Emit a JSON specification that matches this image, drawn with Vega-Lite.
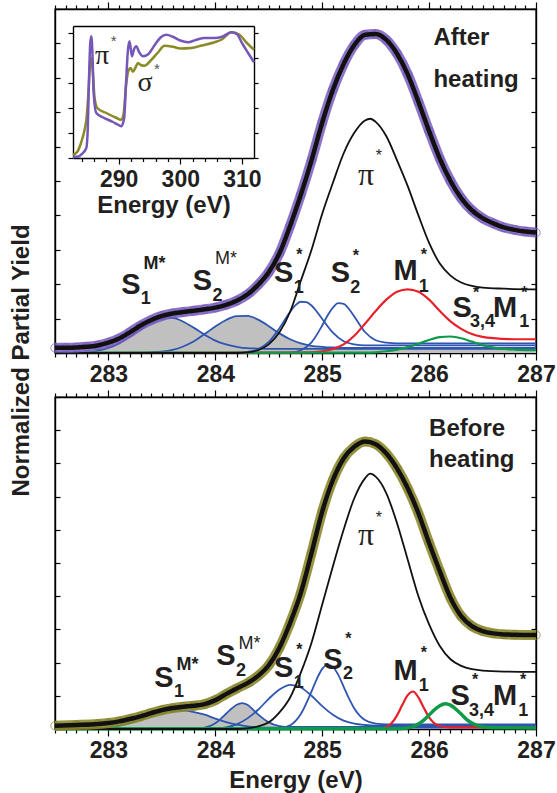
{
"$schema":"https://vega.github.io/schema/vega-lite/v6.json",
"background":"white",
"padding":{"left":8,"top":0,"right":0,"bottom":0},
"bounds":"flush",
"spacing":44,
"config":{
 "view":{"stroke":"#000","strokeWidth":1.4},
 "axis":{"grid":false,"domainColor":"#000","domainWidth":1.4,"tickColor":"#000","tickWidth":1.2,"labelFont":"Liberation Sans","labelFontWeight":"bold","labelFontSize":23,"labelColor":"#231f20","titleFont":"Liberation Sans","titleFontWeight":"bold","titleFontSize":24,"titleColor":"#231f20"}
},
"datasets":{
"curves":[
{"p":"A","s":"tot","E":282.5,"v":0.15},{"p":"A","s":"tot","E":282.6,"v":0.15},{"p":"A","s":"tot","E":282.7,"v":0.16},{"p":"A","s":"tot","E":282.8,"v":0.18},{"p":"A","s":"tot","E":282.9,"v":0.22},{"p":"A","s":"tot","E":283.0,"v":0.30},{"p":"A","s":"tot","E":283.1,"v":0.42},{"p":"A","s":"tot","E":283.2,"v":0.60},{"p":"A","s":"tot","E":283.3,"v":0.80},{"p":"A","s":"tot","E":283.4,"v":0.96},{"p":"A","s":"tot","E":283.5,"v":1.08},{"p":"A","s":"tot","E":283.6,"v":1.15},{"p":"A","s":"tot","E":283.7,"v":1.19},{"p":"A","s":"tot","E":283.8,"v":1.23},{"p":"A","s":"tot","E":283.9,"v":1.27},{"p":"A","s":"tot","E":284.0,"v":1.32},{"p":"A","s":"tot","E":284.1,"v":1.40},{"p":"A","s":"tot","E":284.2,"v":1.52},{"p":"A","s":"tot","E":284.3,"v":1.70},{"p":"A","s":"tot","E":284.4,"v":1.98},{"p":"A","s":"tot","E":284.5,"v":2.35},{"p":"A","s":"tot","E":284.6,"v":2.90},{"p":"A","s":"tot","E":284.7,"v":3.70},{"p":"A","s":"tot","E":284.8,"v":4.60},{"p":"A","s":"tot","E":284.9,"v":5.60},{"p":"A","s":"tot","E":285.0,"v":6.70},{"p":"A","s":"tot","E":285.1,"v":7.65},{"p":"A","s":"tot","E":285.2,"v":8.40},{"p":"A","s":"tot","E":285.3,"v":8.95},{"p":"A","s":"tot","E":285.4,"v":9.25},{"p":"A","s":"tot","E":285.5,"v":9.27},{"p":"A","s":"tot","E":285.6,"v":9.10},{"p":"A","s":"tot","E":285.7,"v":8.70},{"p":"A","s":"tot","E":285.8,"v":8.10},{"p":"A","s":"tot","E":285.9,"v":7.30},{"p":"A","s":"tot","E":286.0,"v":6.45},{"p":"A","s":"tot","E":286.1,"v":5.65},{"p":"A","s":"tot","E":286.2,"v":5.00},{"p":"A","s":"tot","E":286.3,"v":4.50},{"p":"A","s":"tot","E":286.4,"v":4.15},{"p":"A","s":"tot","E":286.5,"v":3.92},{"p":"A","s":"tot","E":286.6,"v":3.77},{"p":"A","s":"tot","E":286.7,"v":3.65},{"p":"A","s":"tot","E":286.8,"v":3.58},{"p":"A","s":"tot","E":286.9,"v":3.53},{"p":"A","s":"tot","E":287.0,"v":3.50},
{"p":"A","s":"pi","E":282.5,"v":0},{"p":"A","s":"pi","E":284.2,"v":0},{"p":"A","s":"pi","E":284.3,"v":0.02},{"p":"A","s":"pi","E":284.4,"v":0.08},{"p":"A","s":"pi","E":284.5,"v":0.25},{"p":"A","s":"pi","E":284.6,"v":0.6},{"p":"A","s":"pi","E":284.7,"v":1.2},{"p":"A","s":"pi","E":284.8,"v":2.1},{"p":"A","s":"pi","E":284.9,"v":3.0},{"p":"A","s":"pi","E":285.0,"v":4.05},{"p":"A","s":"pi","E":285.1,"v":4.95},{"p":"A","s":"pi","E":285.2,"v":5.8},{"p":"A","s":"pi","E":285.3,"v":6.4},{"p":"A","s":"pi","E":285.4,"v":6.76},{"p":"A","s":"pi","E":285.45,"v":6.81},{"p":"A","s":"pi","E":285.5,"v":6.72},{"p":"A","s":"pi","E":285.6,"v":6.3},{"p":"A","s":"pi","E":285.7,"v":5.6},{"p":"A","s":"pi","E":285.8,"v":4.85},{"p":"A","s":"pi","E":285.9,"v":4.0},{"p":"A","s":"pi","E":286.0,"v":3.2},{"p":"A","s":"pi","E":286.1,"v":2.6},{"p":"A","s":"pi","E":286.2,"v":2.25},{"p":"A","s":"pi","E":286.3,"v":2.05},{"p":"A","s":"pi","E":286.4,"v":1.95},{"p":"A","s":"pi","E":286.5,"v":1.9},{"p":"A","s":"pi","E":286.7,"v":1.87},{"p":"A","s":"pi","E":287.0,"v":1.85},
{"p":"A","s":"s1m","E":282.5,"v":0},{"p":"A","s":"s1m","E":282.7,"v":0.01},{"p":"A","s":"s1m","E":282.8,"v":0.02},{"p":"A","s":"s1m","E":282.9,"v":0.07},{"p":"A","s":"s1m","E":283.0,"v":0.15},{"p":"A","s":"s1m","E":283.1,"v":0.28},{"p":"A","s":"s1m","E":283.2,"v":0.48},{"p":"A","s":"s1m","E":283.3,"v":0.69},{"p":"A","s":"s1m","E":283.4,"v":0.88},{"p":"A","s":"s1m","E":283.5,"v":1.0},{"p":"A","s":"s1m","E":283.6,"v":1.02},{"p":"A","s":"s1m","E":283.7,"v":0.91},{"p":"A","s":"s1m","E":283.8,"v":0.73},{"p":"A","s":"s1m","E":283.9,"v":0.53},{"p":"A","s":"s1m","E":284.0,"v":0.36},{"p":"A","s":"s1m","E":284.1,"v":0.25},{"p":"A","s":"s1m","E":284.2,"v":0.18},{"p":"A","s":"s1m","E":284.3,"v":0.14},{"p":"A","s":"s1m","E":284.4,"v":0.13},{"p":"A","s":"s1m","E":284.5,"v":0.12},{"p":"A","s":"s1m","E":287.0,"v":0.12},
{"p":"A","s":"s2m","E":282.5,"v":0},{"p":"A","s":"s2m","E":283.3,"v":0.01},{"p":"A","s":"s2m","E":283.4,"v":0.02},{"p":"A","s":"s2m","E":283.5,"v":0.04},{"p":"A","s":"s2m","E":283.6,"v":0.09},{"p":"A","s":"s2m","E":283.7,"v":0.19},{"p":"A","s":"s2m","E":283.8,"v":0.34},{"p":"A","s":"s2m","E":283.9,"v":0.55},{"p":"A","s":"s2m","E":284.0,"v":0.77},{"p":"A","s":"s2m","E":284.1,"v":0.96},{"p":"A","s":"s2m","E":284.2,"v":1.07},{"p":"A","s":"s2m","E":284.3,"v":1.08},{"p":"A","s":"s2m","E":284.4,"v":0.97},{"p":"A","s":"s2m","E":284.5,"v":0.78},{"p":"A","s":"s2m","E":284.6,"v":0.57},{"p":"A","s":"s2m","E":284.7,"v":0.4},{"p":"A","s":"s2m","E":284.8,"v":0.28},{"p":"A","s":"s2m","E":284.9,"v":0.21},{"p":"A","s":"s2m","E":285.0,"v":0.18},{"p":"A","s":"s2m","E":285.1,"v":0.16},{"p":"A","s":"s2m","E":285.2,"v":0.15},{"p":"A","s":"s2m","E":287.0,"v":0.15},
{"p":"A","s":"s1","E":282.5,"v":0},{"p":"A","s":"s1","E":284.1,"v":0},{"p":"A","s":"s1","E":284.2,"v":0.01},{"p":"A","s":"s1","E":284.3,"v":0.03},{"p":"A","s":"s1","E":284.4,"v":0.11},{"p":"A","s":"s1","E":284.5,"v":0.32},{"p":"A","s":"s1","E":284.6,"v":0.72},{"p":"A","s":"s1","E":284.7,"v":1.2},{"p":"A","s":"s1","E":284.75,"v":1.39},{"p":"A","s":"s1","E":284.8,"v":1.49},{"p":"A","s":"s1","E":284.85,"v":1.48},{"p":"A","s":"s1","E":284.9,"v":1.38},{"p":"A","s":"s1","E":284.95,"v":1.2},{"p":"A","s":"s1","E":285.0,"v":0.99},{"p":"A","s":"s1","E":285.1,"v":0.59},{"p":"A","s":"s1","E":285.2,"v":0.34},{"p":"A","s":"s1","E":285.3,"v":0.25},{"p":"A","s":"s1","E":285.4,"v":0.22},{"p":"A","s":"s1","E":287.0,"v":0.22},
{"p":"A","s":"s2","E":282.5,"v":0},{"p":"A","s":"s2","E":284.6,"v":0},{"p":"A","s":"s2","E":284.7,"v":0.01},{"p":"A","s":"s2","E":284.8,"v":0.08},{"p":"A","s":"s2","E":284.9,"v":0.31},{"p":"A","s":"s2","E":285.0,"v":0.8},{"p":"A","s":"s2","E":285.05,"v":1.09},{"p":"A","s":"s2","E":285.1,"v":1.32},{"p":"A","s":"s2","E":285.15,"v":1.45},{"p":"A","s":"s2","E":285.2,"v":1.43},{"p":"A","s":"s2","E":285.25,"v":1.28},{"p":"A","s":"s2","E":285.3,"v":1.06},{"p":"A","s":"s2","E":285.4,"v":0.61},{"p":"A","s":"s2","E":285.5,"v":0.37},{"p":"A","s":"s2","E":285.6,"v":0.3},{"p":"A","s":"s2","E":285.7,"v":0.28},{"p":"A","s":"s2","E":287.0,"v":0.28},
{"p":"A","s":"m1","E":282.5,"v":0},{"p":"A","s":"m1","E":284.8,"v":0.01},{"p":"A","s":"m1","E":285.0,"v":0.05},{"p":"A","s":"m1","E":285.1,"v":0.12},{"p":"A","s":"m1","E":285.2,"v":0.25},{"p":"A","s":"m1","E":285.3,"v":0.5},{"p":"A","s":"m1","E":285.4,"v":0.85},{"p":"A","s":"m1","E":285.5,"v":1.22},{"p":"A","s":"m1","E":285.6,"v":1.55},{"p":"A","s":"m1","E":285.7,"v":1.78},{"p":"A","s":"m1","E":285.8,"v":1.85},{"p":"A","s":"m1","E":285.9,"v":1.78},{"p":"A","s":"m1","E":286.0,"v":1.55},{"p":"A","s":"m1","E":286.1,"v":1.22},{"p":"A","s":"m1","E":286.2,"v":0.92},{"p":"A","s":"m1","E":286.3,"v":0.7},{"p":"A","s":"m1","E":286.4,"v":0.55},{"p":"A","s":"m1","E":286.5,"v":0.47},{"p":"A","s":"m1","E":286.6,"v":0.43},{"p":"A","s":"m1","E":286.8,"v":0.4},{"p":"A","s":"m1","E":287.0,"v":0.4},
{"p":"A","s":"g","E":282.5,"v":0.01},{"p":"A","s":"g","E":285.4,"v":0.01},{"p":"A","s":"g","E":285.5,"v":0.02},{"p":"A","s":"g","E":285.6,"v":0.05},{"p":"A","s":"g","E":285.7,"v":0.1},{"p":"A","s":"g","E":285.8,"v":0.17},{"p":"A","s":"g","E":285.9,"v":0.27},{"p":"A","s":"g","E":286.0,"v":0.38},{"p":"A","s":"g","E":286.1,"v":0.46},{"p":"A","s":"g","E":286.2,"v":0.48},{"p":"A","s":"g","E":286.3,"v":0.43},{"p":"A","s":"g","E":286.4,"v":0.33},{"p":"A","s":"g","E":286.5,"v":0.23},{"p":"A","s":"g","E":286.6,"v":0.16},{"p":"A","s":"g","E":286.7,"v":0.12},{"p":"A","s":"g","E":286.8,"v":0.1},{"p":"A","s":"g","E":287.0,"v":0.08},
{"p":"B","s":"tot","E":282.5,"v":0.1},{"p":"B","s":"tot","E":282.7,"v":0.12},{"p":"B","s":"tot","E":282.9,"v":0.15},{"p":"B","s":"tot","E":283.0,"v":0.18},{"p":"B","s":"tot","E":283.1,"v":0.23},{"p":"B","s":"tot","E":283.2,"v":0.3},{"p":"B","s":"tot","E":283.3,"v":0.38},{"p":"B","s":"tot","E":283.4,"v":0.48},{"p":"B","s":"tot","E":283.5,"v":0.57},{"p":"B","s":"tot","E":283.6,"v":0.63},{"p":"B","s":"tot","E":283.7,"v":0.67},{"p":"B","s":"tot","E":283.8,"v":0.7},{"p":"B","s":"tot","E":283.9,"v":0.75},{"p":"B","s":"tot","E":284.0,"v":0.87},{"p":"B","s":"tot","E":284.1,"v":1.05},{"p":"B","s":"tot","E":284.2,"v":1.22},{"p":"B","s":"tot","E":284.3,"v":1.38},{"p":"B","s":"tot","E":284.4,"v":1.6},{"p":"B","s":"tot","E":284.5,"v":1.92},{"p":"B","s":"tot","E":284.6,"v":2.45},{"p":"B","s":"tot","E":284.7,"v":3.2},{"p":"B","s":"tot","E":284.8,"v":4.1},{"p":"B","s":"tot","E":284.9,"v":5.3},{"p":"B","s":"tot","E":285.0,"v":6.55},{"p":"B","s":"tot","E":285.1,"v":7.5},{"p":"B","s":"tot","E":285.2,"v":8.15},{"p":"B","s":"tot","E":285.3,"v":8.5},{"p":"B","s":"tot","E":285.4,"v":8.66},{"p":"B","s":"tot","E":285.5,"v":8.58},{"p":"B","s":"tot","E":285.6,"v":8.3},{"p":"B","s":"tot","E":285.7,"v":7.85},{"p":"B","s":"tot","E":285.8,"v":7.25},{"p":"B","s":"tot","E":285.9,"v":6.5},{"p":"B","s":"tot","E":286.0,"v":5.6},{"p":"B","s":"tot","E":286.1,"v":4.75},{"p":"B","s":"tot","E":286.2,"v":3.95},{"p":"B","s":"tot","E":286.3,"v":3.4},{"p":"B","s":"tot","E":286.4,"v":3.1},{"p":"B","s":"tot","E":286.5,"v":2.95},{"p":"B","s":"tot","E":286.6,"v":2.88},{"p":"B","s":"tot","E":286.7,"v":2.85},{"p":"B","s":"tot","E":286.8,"v":2.84},{"p":"B","s":"tot","E":287.0,"v":2.83},
{"p":"B","s":"pi","E":282.5,"v":0},{"p":"B","s":"pi","E":284.2,"v":0},{"p":"B","s":"pi","E":284.3,"v":0.02},{"p":"B","s":"pi","E":284.4,"v":0.08},{"p":"B","s":"pi","E":284.5,"v":0.2},{"p":"B","s":"pi","E":284.6,"v":0.5},{"p":"B","s":"pi","E":284.7,"v":0.95},{"p":"B","s":"pi","E":284.8,"v":1.7},{"p":"B","s":"pi","E":284.9,"v":2.6},{"p":"B","s":"pi","E":285.0,"v":3.75},{"p":"B","s":"pi","E":285.1,"v":4.9},{"p":"B","s":"pi","E":285.2,"v":6.0},{"p":"B","s":"pi","E":285.3,"v":6.95},{"p":"B","s":"pi","E":285.4,"v":7.55},{"p":"B","s":"pi","E":285.45,"v":7.69},{"p":"B","s":"pi","E":285.5,"v":7.6},{"p":"B","s":"pi","E":285.6,"v":7.1},{"p":"B","s":"pi","E":285.7,"v":6.2},{"p":"B","s":"pi","E":285.8,"v":5.1},{"p":"B","s":"pi","E":285.9,"v":4.0},{"p":"B","s":"pi","E":286.0,"v":3.15},{"p":"B","s":"pi","E":286.1,"v":2.5},{"p":"B","s":"pi","E":286.2,"v":2.1},{"p":"B","s":"pi","E":286.3,"v":1.9},{"p":"B","s":"pi","E":286.4,"v":1.8},{"p":"B","s":"pi","E":286.5,"v":1.76},{"p":"B","s":"pi","E":286.7,"v":1.73},{"p":"B","s":"pi","E":287.0,"v":1.72},
{"p":"B","s":"s1m","E":282.5,"v":0},{"p":"B","s":"s1m","E":282.8,"v":0.01},{"p":"B","s":"s1m","E":282.9,"v":0.02},{"p":"B","s":"s1m","E":283.0,"v":0.05},{"p":"B","s":"s1m","E":283.1,"v":0.1},{"p":"B","s":"s1m","E":283.2,"v":0.18},{"p":"B","s":"s1m","E":283.3,"v":0.28},{"p":"B","s":"s1m","E":283.4,"v":0.4},{"p":"B","s":"s1m","E":283.5,"v":0.49},{"p":"B","s":"s1m","E":283.6,"v":0.55},{"p":"B","s":"s1m","E":283.7,"v":0.56},{"p":"B","s":"s1m","E":283.8,"v":0.51},{"p":"B","s":"s1m","E":283.9,"v":0.43},{"p":"B","s":"s1m","E":284.0,"v":0.31},{"p":"B","s":"s1m","E":284.1,"v":0.21},{"p":"B","s":"s1m","E":284.2,"v":0.13},{"p":"B","s":"s1m","E":284.3,"v":0.08},{"p":"B","s":"s1m","E":284.4,"v":0.05},{"p":"B","s":"s1m","E":284.5,"v":0.04},{"p":"B","s":"s1m","E":287.0,"v":0.04},
{"p":"B","s":"s2m","E":282.5,"v":0},{"p":"B","s":"s2m","E":283.7,"v":0},{"p":"B","s":"s2m","E":283.8,"v":0.01},{"p":"B","s":"s2m","E":283.9,"v":0.04},{"p":"B","s":"s2m","E":284.0,"v":0.17},{"p":"B","s":"s2m","E":284.05,"v":0.3},{"p":"B","s":"s2m","E":284.1,"v":0.46},{"p":"B","s":"s2m","E":284.15,"v":0.61},{"p":"B","s":"s2m","E":284.2,"v":0.73},{"p":"B","s":"s2m","E":284.25,"v":0.78},{"p":"B","s":"s2m","E":284.3,"v":0.73},{"p":"B","s":"s2m","E":284.35,"v":0.59},{"p":"B","s":"s2m","E":284.4,"v":0.44},{"p":"B","s":"s2m","E":284.5,"v":0.2},{"p":"B","s":"s2m","E":284.6,"v":0.09},{"p":"B","s":"s2m","E":284.7,"v":0.06},{"p":"B","s":"s2m","E":287.0,"v":0.06},
{"p":"B","s":"s1","E":282.5,"v":0},{"p":"B","s":"s1","E":283.9,"v":0},{"p":"B","s":"s1","E":284.0,"v":0.02},{"p":"B","s":"s1","E":284.1,"v":0.05},{"p":"B","s":"s1","E":284.2,"v":0.14},{"p":"B","s":"s1","E":284.3,"v":0.32},{"p":"B","s":"s1","E":284.4,"v":0.58},{"p":"B","s":"s1","E":284.5,"v":0.91},{"p":"B","s":"s1","E":284.6,"v":1.19},{"p":"B","s":"s1","E":284.7,"v":1.33},{"p":"B","s":"s1","E":284.8,"v":1.25},{"p":"B","s":"s1","E":284.9,"v":1.0},{"p":"B","s":"s1","E":285.0,"v":0.69},{"p":"B","s":"s1","E":285.1,"v":0.43},{"p":"B","s":"s1","E":285.2,"v":0.25},{"p":"B","s":"s1","E":285.3,"v":0.16},{"p":"B","s":"s1","E":285.4,"v":0.12},{"p":"B","s":"s1","E":285.5,"v":0.1},{"p":"B","s":"s1","E":287.0,"v":0.1},
{"p":"B","s":"s2","E":282.5,"v":0},{"p":"B","s":"s2","E":284.5,"v":0},{"p":"B","s":"s2","E":284.6,"v":0.02},{"p":"B","s":"s2","E":284.7,"v":0.11},{"p":"B","s":"s2","E":284.8,"v":0.45},{"p":"B","s":"s2","E":284.9,"v":1.13},{"p":"B","s":"s2","E":284.95,"v":1.51},{"p":"B","s":"s2","E":285.0,"v":1.81},{"p":"B","s":"s2","E":285.05,"v":1.94},{"p":"B","s":"s2","E":285.1,"v":1.87},{"p":"B","s":"s2","E":285.15,"v":1.63},{"p":"B","s":"s2","E":285.2,"v":1.28},{"p":"B","s":"s2","E":285.25,"v":0.92},{"p":"B","s":"s2","E":285.3,"v":0.62},{"p":"B","s":"s2","E":285.4,"v":0.27},{"p":"B","s":"s2","E":285.5,"v":0.16},{"p":"B","s":"s2","E":285.6,"v":0.14},{"p":"B","s":"s2","E":287.0,"v":0.14},
{"p":"B","s":"m1","E":282.5,"v":0},{"p":"B","s":"m1","E":285.5,"v":0},{"p":"B","s":"m1","E":285.6,"v":0.06},{"p":"B","s":"m1","E":285.65,"v":0.18},{"p":"B","s":"m1","E":285.7,"v":0.41},{"p":"B","s":"m1","E":285.75,"v":0.73},{"p":"B","s":"m1","E":285.8,"v":1.02},{"p":"B","s":"m1","E":285.85,"v":1.13},{"p":"B","s":"m1","E":285.9,"v":0.95},{"p":"B","s":"m1","E":285.95,"v":0.64},{"p":"B","s":"m1","E":286.0,"v":0.35},{"p":"B","s":"m1","E":286.05,"v":0.17},{"p":"B","s":"m1","E":286.1,"v":0.09},{"p":"B","s":"m1","E":286.2,"v":0.05},{"p":"B","s":"m1","E":287.0,"v":0.05},
{"p":"B","s":"g","E":282.5,"v":0.01},{"p":"B","s":"g","E":285.7,"v":0.01},{"p":"B","s":"g","E":285.8,"v":0.03},{"p":"B","s":"g","E":285.9,"v":0.15},{"p":"B","s":"g","E":285.95,"v":0.27},{"p":"B","s":"g","E":286.0,"v":0.42},{"p":"B","s":"g","E":286.05,"v":0.58},{"p":"B","s":"g","E":286.1,"v":0.7},{"p":"B","s":"g","E":286.15,"v":0.76},{"p":"B","s":"g","E":286.2,"v":0.72},{"p":"B","s":"g","E":286.25,"v":0.6},{"p":"B","s":"g","E":286.3,"v":0.45},{"p":"B","s":"g","E":286.35,"v":0.29},{"p":"B","s":"g","E":286.4,"v":0.18},{"p":"B","s":"g","E":286.5,"v":0.06},{"p":"B","s":"g","E":286.6,"v":0.04},{"p":"B","s":"g","E":287.0,"v":0.03}
],
"labels":[
{"p":"A","k":"big","t":"S","E":283.21,"v":1.99},{"p":"A","k":"big","t":"S","E":283.88,"v":2.08},{"p":"A","k":"big","t":"S","E":284.64,"v":2.33},{"p":"A","k":"big","t":"S","E":285.17,"v":2.33},{"p":"A","k":"big","t":"M","E":285.78,"v":2.38},{"p":"A","k":"big","t":"S","E":286.31,"v":1.31},{"p":"A","k":"big","t":"M","E":286.71,"v":1.31},
{"p":"A","k":"sub","t":"1","E":283.35,"v":1.56},{"p":"A","k":"sub","t":"2","E":284.02,"v":1.65},{"p":"A","k":"sub","t":"1","E":284.78,"v":1.9},{"p":"A","k":"sub","t":"2","E":285.31,"v":1.9},{"p":"A","k":"sub","t":"1","E":285.95,"v":1.92},{"p":"A","k":"sub","t":"3,4","E":286.5,"v":0.9},{"p":"A","k":"sub","t":"1","E":286.89,"v":0.9},
{"p":"A","k":"sup","t":"*","E":284.785,"v":2.86},{"p":"A","k":"sup","t":"*","E":285.315,"v":2.82},{"p":"A","k":"sup","t":"*","E":285.95,"v":2.86},{"p":"A","k":"sup","t":"*","E":286.44,"v":1.74},{"p":"A","k":"sup","t":"*","E":286.89,"v":1.74},
{"p":"A","k":"msupB","t":"M*","E":283.43,"v":2.6},{"p":"A","k":"msupR","t":"M*","E":284.1,"v":2.74},
{"p":"A","k":"pi","t":"π","E":285.41,"v":5.18},{"p":"A","k":"pistar","t":"*","E":285.53,"v":5.72},
{"p":"A","k":"head","t":"After","E":286.04,"v":9.16},{"p":"A","k":"head","t":"heating","E":286.04,"v":7.94},
{"p":"B","k":"big","t":"S","E":283.52,"v":1.54},{"p":"B","k":"big","t":"S","E":284.1,"v":2.19},{"p":"B","k":"big","t":"S","E":284.64,"v":1.84},{"p":"B","k":"big","t":"S","E":285.1,"v":2.09},{"p":"B","k":"big","t":"M","E":285.78,"v":1.74},{"p":"B","k":"big","t":"S","E":286.29,"v":0.98},{"p":"B","k":"big","t":"M","E":286.71,"v":0.98},
{"p":"B","k":"sub","t":"1","E":283.66,"v":1.1},{"p":"B","k":"sub","t":"2","E":284.24,"v":1.75},{"p":"B","k":"sub","t":"1","E":284.78,"v":1.4},{"p":"B","k":"sub","t":"2","E":285.24,"v":1.65},{"p":"B","k":"sub","t":"1","E":285.95,"v":1.3},{"p":"B","k":"sub","t":"3,4","E":286.49,"v":0.55},{"p":"B","k":"sub","t":"1","E":286.88,"v":0.55},
{"p":"B","k":"sup","t":"*","E":284.785,"v":2.37},{"p":"B","k":"sup","t":"*","E":285.245,"v":2.72},{"p":"B","k":"sup","t":"*","E":285.95,"v":2.3},{"p":"B","k":"sup","t":"*","E":286.43,"v":1.48},{"p":"B","k":"sup","t":"*","E":286.88,"v":1.48},
{"p":"B","k":"msupB","t":"M*","E":283.74,"v":1.92},{"p":"B","k":"msupR","t":"M*","E":284.32,"v":2.57},
{"p":"B","k":"pi","t":"π","E":285.41,"v":5.85},{"p":"B","k":"pistar","t":"*","E":285.53,"v":6.36},
{"p":"B","k":"head","t":"Before","E":286.0,"v":9.03},{"p":"B","k":"head","t":"heating","E":286.0,"v":8.1}
],
"inset":[
{"s":"before","E":282.6,"v":0.13},{"s":"before","E":283.3,"v":0.25},{"s":"before","E":283.9,"v":0.6},{"s":"before","E":284.48,"v":1.13},{"s":"before","E":284.8,"v":1.6},{"s":"before","E":285.1,"v":2.6},{"s":"before","E":285.35,"v":3.7},{"s":"before","E":285.57,"v":4.0},{"s":"before","E":285.8,"v":3.5},{"s":"before","E":286.1,"v":2.4},{"s":"before","E":286.54,"v":2.0},{"s":"before","E":288.0,"v":1.8},{"s":"before","E":289.5,"v":1.62},{"s":"before","E":290.43,"v":1.53},{"s":"before","E":290.8,"v":1.75},{"s":"before","E":291.2,"v":2.9},{"s":"before","E":291.6,"v":3.5},{"s":"before","E":291.94,"v":3.6},{"s":"before","E":292.3,"v":3.45},{"s":"before","E":292.7,"v":3.6},{"s":"before","E":293.13,"v":3.8},{"s":"before","E":293.6,"v":3.72},{"s":"before","E":294.2,"v":3.69},{"s":"before","E":295.2,"v":3.9},{"s":"before","E":296.3,"v":4.2},{"s":"before","E":297.45,"v":4.49},{"s":"before","E":298.8,"v":4.45},{"s":"before","E":300.0,"v":4.38},{"s":"before","E":301.77,"v":4.4},{"s":"before","E":303.5,"v":4.5},{"s":"before","E":305.55,"v":4.63},{"s":"before","E":306.8,"v":4.75},{"s":"before","E":308.26,"v":5.03},{"s":"before","E":309.5,"v":4.95},{"s":"before","E":310.8,"v":4.6},{"s":"before","E":311.95,"v":4.33},
{"s":"after","E":282.6,"v":0.04},{"s":"after","E":283.5,"v":0.06},{"s":"after","E":284.0,"v":0.15},{"s":"after","E":284.76,"v":0.4},{"s":"after","E":285.0,"v":1.2},{"s":"after","E":285.2,"v":3.2},{"s":"after","E":285.4,"v":4.6},{"s":"after","E":285.57,"v":4.87},{"s":"after","E":285.75,"v":4.2},{"s":"after","E":285.95,"v":2.6},{"s":"after","E":286.38,"v":1.8},{"s":"after","E":287.5,"v":1.62},{"s":"after","E":289.0,"v":1.45},{"s":"after","E":290.0,"v":1.32},{"s":"after","E":290.43,"v":1.27},{"s":"after","E":290.9,"v":1.6},{"s":"after","E":291.2,"v":3.0},{"s":"after","E":291.5,"v":4.3},{"s":"after","E":291.77,"v":4.67},{"s":"after","E":292.16,"v":4.07},{"s":"after","E":292.5,"v":4.35},{"s":"after","E":292.86,"v":4.47},{"s":"after","E":293.3,"v":4.25},{"s":"after","E":293.94,"v":4.07},{"s":"after","E":294.8,"v":4.15},{"s":"after","E":295.8,"v":4.5},{"s":"after","E":296.8,"v":4.82},{"s":"after","E":297.72,"v":4.93},{"s":"after","E":298.8,"v":4.85},{"s":"after","E":300.0,"v":4.7},{"s":"after","E":301.24,"v":4.63},{"s":"after","E":302.5,"v":4.72},{"s":"after","E":303.93,"v":4.8},{"s":"after","E":305.5,"v":4.8},{"s":"after","E":306.8,"v":4.85},{"s":"after","E":308.26,"v":5.03},{"s":"after","E":309.2,"v":4.95},{"s":"after","E":310.0,"v":4.6},{"s":"after","E":311.0,"v":4.2},{"s":"after","E":311.95,"v":3.83}
],
"insetLabels":[
{"k":"g","t":"π","E":287.3,"v":4.07},{"k":"star","t":"*","E":289.2,"v":4.67},{"k":"g","t":"σ","E":294.3,"v":3.0},{"k":"star","t":"*","E":296.2,"v":3.55}
]
},
"vconcat":[
{
"width":481,"height":344,
"resolve":{"scale":{"x":"independent","y":"independent"},"axis":{"x":"independent","y":"independent"}},
"layer":[
 {
  "data":{"name":"curves"},
  "encoding":{
   "x":{"field":"E","type":"quantitative","scale":{"domain":[282.5,287],"nice":false,"zero":false},"axis":{"orient":"bottom","values":[282.5,282.6,282.7,282.8,282.9,283,283.1,283.2,283.3,283.4,283.5,283.6,283.7,283.8,283.9,284,284.1,284.2,284.3,284.4,284.5,284.6,284.7,284.8,284.9,285,285.1,285.2,285.3,285.4,285.5,285.6,285.7,285.8,285.9,286,286.1,286.2,286.3,286.4,286.5,286.6,286.7,286.8,286.9,287],"labelExpr":"abs(datum.value-round(datum.value))<0.01 ? format(datum.value,'d') : ''","tickSize":{"condition":{"test":"abs(datum.value-round(datum.value))<0.01","value":7},"value":4},"labelOverlap":false,"labelFlush":false,"labelPadding":3,"title":null}},
   "y":{"field":"v","type":"quantitative","scale":{"domain":[0,10],"nice":false,"zero":false},"axis":{"orient":"left","values":[0,1,2,3,4,5,6,7,8,9,10],"labels":false,"tickSize":-5,"title":"Normalized Partial Yield","titleX":-34,"titleY":351,"titleAngle":-90,"titleBaseline":"middle","titleAlign":"center"}}
  },
  "layer":[
   {"transform":[{"filter":"datum.p==='A' && datum.s==='s1m'"}],"mark":{"type":"area","color":"#c0c0c0","interpolate":"monotone"}},
   {"transform":[{"filter":"datum.p==='A' && datum.s==='s2m'"}],"mark":{"type":"area","color":"#c0c0c0","interpolate":"monotone"}},
   {"transform":[{"filter":"datum.p==='A' && (datum.s==='s1m' || datum.s==='s2m' || datum.s==='s1' || datum.s==='s2')"}],"mark":{"type":"line","color":"#2f55b0","strokeWidth":1.8,"interpolate":"monotone"},"encoding":{"detail":{"field":"s"}}},
   {"transform":[{"filter":"datum.p==='A' && datum.s==='m1'"}],"mark":{"type":"line","color":"#e8202a","strokeWidth":2.2,"interpolate":"monotone"}},
   {"transform":[{"filter":"datum.p==='A' && datum.s==='g'"}],"mark":{"type":"line","color":"#0e9a48","strokeWidth":2.2,"interpolate":"monotone"}},
   {"transform":[{"filter":"datum.p==='A' && datum.s==='pi'"}],"mark":{"type":"line","color":"#111","strokeWidth":1.8,"interpolate":"monotone"}},
   {"transform":[{"filter":"datum.p==='A' && datum.s==='tot'"}],"mark":{"type":"line","color":"#7a5cc0","strokeWidth":10,"opacity":0.85,"interpolate":"monotone"}},
   {"transform":[{"filter":"datum.p==='A' && datum.s==='tot'"}],"mark":{"type":"point","shape":"circle","filled":false,"size":70,"strokeWidth":1,"color":"#6f52b8"}},
   {"transform":[{"filter":"datum.p==='A' && datum.s==='tot'"}],"mark":{"type":"line","color":"#111","strokeWidth":4.5,"interpolate":"monotone"}},
   {"data":{"name":"labels"},"transform":[{"filter":"datum.p==='A' && datum.k==='big'"}],"mark":{"type":"text","font":"Liberation Sans","fontWeight":"bold","fontSize":29,"color":"#231f20"},"encoding":{"text":{"field":"t"}}},
   {"data":{"name":"labels"},"transform":[{"filter":"datum.p==='A' && datum.k==='sub'"}],"mark":{"type":"text","font":"Liberation Sans","fontWeight":"bold","fontSize":18,"color":"#231f20"},"encoding":{"text":{"field":"t"}}},
   {"data":{"name":"labels"},"transform":[{"filter":"datum.p==='A' && datum.k==='sup'"}],"mark":{"type":"text","font":"Liberation Sans","fontWeight":"bold","fontSize":16,"color":"#231f20"},"encoding":{"text":{"field":"t"}}},
   {"data":{"name":"labels"},"transform":[{"filter":"datum.p==='A' && datum.k==='msupB'"}],"mark":{"type":"text","font":"Liberation Sans","fontWeight":"bold","fontSize":18,"color":"#231f20"},"encoding":{"text":{"field":"t"}}},
   {"data":{"name":"labels"},"transform":[{"filter":"datum.p==='A' && datum.k==='msupR'"}],"mark":{"type":"text","font":"Liberation Sans","fontWeight":"normal","fontSize":18,"color":"#231f20"},"encoding":{"text":{"field":"t"}}},
   {"data":{"name":"labels"},"transform":[{"filter":"datum.p==='A' && datum.k==='pi'"}],"mark":{"type":"text","font":"Liberation Serif","fontSize":32,"color":"#231f20"},"encoding":{"text":{"field":"t"}}},
   {"data":{"name":"labels"},"transform":[{"filter":"datum.p==='A' && datum.k==='pistar'"}],"mark":{"type":"text","font":"Liberation Sans","fontSize":16,"color":"#231f20"},"encoding":{"text":{"field":"t"}}},
   {"data":{"name":"labels"},"transform":[{"filter":"datum.p==='A' && datum.k==='head'"}],"mark":{"type":"text","font":"Liberation Sans","fontWeight":"bold","fontSize":24,"align":"left","color":"#231f20"},"encoding":{"text":{"field":"t"}}}
  ]
 },
 {
  "data":{"name":"curves"},
  "transform":[{"filter":"datum.p==='A' && datum.s==='tot'"}],
  "mark":{"type":"point","opacity":0},
  "encoding":{
   "x":{"field":"E","type":"quantitative","scale":{"domain":[282.5,287],"nice":false,"zero":false},"axis":{"orient":"top","values":[282.5,282.6,282.7,282.8,282.9,283,283.1,283.2,283.3,283.4,283.5,283.6,283.7,283.8,283.9,284,284.1,284.2,284.3,284.4,284.5,284.6,284.7,284.8,284.9,285,285.1,285.2,285.3,285.4,285.5,285.6,285.7,285.8,285.9,286,286.1,286.2,286.3,286.4,286.5,286.6,286.7,286.8,286.9,287],"labels":false,"tickSize":{"condition":{"test":"abs(datum.value-round(datum.value))<0.01","value":7},"value":4},"title":null}},
   "y":{"field":"v","type":"quantitative","scale":{"domain":[0,10],"nice":false,"zero":false},"axis":{"orient":"right","values":[0,1,2,3,4,5,6,7,8,9,10],"labels":false,"tickSize":-5,"title":null}}
  }
 },
 {
  "encoding":{
   "x":{"field":"E","type":"quantitative","scale":{"domain":[282.6,311.95],"range":[18,199],"nice":false,"zero":false},"axis":{"orient":"bottom","offset":-195,"values":[284,286,288,290,292,294,296,298,300,302,304,306,308,310],"labelExpr":"datum.value % 10 === 0 ? format(datum.value,'d') : ''","tickSize":{"condition":{"test":"datum.value % 10 === 0","value":6},"value":3.5},"labelOverlap":false,"labelFlush":false,"labelPadding":4,"title":"Energy (eV)","titlePadding":2}},
   "y":{"field":"v","type":"quantitative","scale":{"domain":[0,5.28],"range":[149,17],"nice":false,"zero":false},"axis":{"orient":"left","offset":-18,"values":[0,1,2,3,4,5],"labels":false,"tickSize":5,"title":null}}
  },
  "layer":[
   {"data":{"name":"inset"},"mark":{"type":"line","strokeWidth":2.5,"interpolate":"monotone"},"encoding":{"color":{"field":"s","type":"nominal","scale":{"domain":["before","after"],"range":["#8a8a26","#7457b8"]},"legend":null}}},
   {"data":{"name":"insetLabels"},"transform":[{"filter":"datum.k==='g'"}],"mark":{"type":"text","font":"Liberation Serif","fontSize":28,"color":"#231f20"},"encoding":{"text":{"field":"t"}}},
   {"data":{"name":"insetLabels"},"transform":[{"filter":"datum.k==='star'"}],"mark":{"type":"text","font":"Liberation Sans","fontSize":15,"color":"#555"},"encoding":{"text":{"field":"t"}}}
  ]
 },
 {
  "data":{"name":"inset"},
  "mark":{"type":"point","opacity":0},
  "encoding":{
   "x":{"field":"E","type":"quantitative","scale":{"domain":[282.6,311.95],"range":[18,199],"nice":false,"zero":false},"axis":{"orient":"top","offset":-17,"ticks":false,"labels":false,"title":null}},
   "y":{"field":"v","type":"quantitative","scale":{"domain":[0,5.28],"range":[149,17],"nice":false,"zero":false},"axis":{"orient":"right","offset":-282,"values":[0,1,2,3,4,5],"labels":false,"tickSize":4,"title":null}}
  }
 }
]
},
{
"width":481,"height":332,
"resolve":{"scale":{"x":"independent","y":"independent"},"axis":{"x":"independent","y":"independent"}},
"layer":[
 {
  "data":{"name":"curves"},
  "encoding":{
   "x":{"field":"E","type":"quantitative","scale":{"domain":[282.5,287],"nice":false,"zero":false},"axis":{"orient":"bottom","values":[282.5,282.6,282.7,282.8,282.9,283,283.1,283.2,283.3,283.4,283.5,283.6,283.7,283.8,283.9,284,284.1,284.2,284.3,284.4,284.5,284.6,284.7,284.8,284.9,285,285.1,285.2,285.3,285.4,285.5,285.6,285.7,285.8,285.9,286,286.1,286.2,286.3,286.4,286.5,286.6,286.7,286.8,286.9,287],"labelExpr":"abs(datum.value-round(datum.value))<0.01 ? format(datum.value,'d') : ''","tickSize":{"condition":{"test":"abs(datum.value-round(datum.value))<0.01","value":7},"value":4},"labelOverlap":false,"labelFlush":false,"labelPadding":3,"title":"Energy (eV)","titlePadding":6}},
   "y":{"field":"v","type":"quantitative","scale":{"domain":[0,10],"nice":false,"zero":false},"axis":{"orient":"left","values":[0,1,2,3,4,5,6,7,8,9,10],"labels":false,"tickSize":-5,"title":null}}
  },
  "layer":[
   {"transform":[{"filter":"datum.p==='B' && datum.s==='s1m'"}],"mark":{"type":"area","color":"#c0c0c0","interpolate":"monotone"}},
   {"transform":[{"filter":"datum.p==='B' && datum.s==='s2m'"}],"mark":{"type":"area","color":"#c0c0c0","interpolate":"monotone"}},
   {"transform":[{"filter":"datum.p==='B' && (datum.s==='s1m' || datum.s==='s2m' || datum.s==='s1' || datum.s==='s2')"}],"mark":{"type":"line","color":"#2f55b0","strokeWidth":1.8,"interpolate":"monotone"},"encoding":{"detail":{"field":"s"}}},
   {"transform":[{"filter":"datum.p==='B' && datum.s==='m1'"}],"mark":{"type":"line","color":"#e8202a","strokeWidth":2.2,"interpolate":"monotone"}},
   {"transform":[{"filter":"datum.p==='B' && datum.s==='g'"}],"mark":{"type":"line","color":"#0e9a48","strokeWidth":3.5,"interpolate":"monotone"}},
   {"transform":[{"filter":"datum.p==='B' && datum.s==='pi'"}],"mark":{"type":"line","color":"#111","strokeWidth":1.8,"interpolate":"monotone"}},
   {"transform":[{"filter":"datum.p==='B' && datum.s==='tot'"}],"mark":{"type":"line","color":"#8c8a2c","strokeWidth":10,"opacity":0.9,"interpolate":"monotone"}},
   {"transform":[{"filter":"datum.p==='B' && datum.s==='tot'"}],"mark":{"type":"point","shape":"circle","filled":false,"size":70,"strokeWidth":1,"color":"#7f7d22"}},
   {"transform":[{"filter":"datum.p==='B' && datum.s==='tot'"}],"mark":{"type":"line","color":"#111","strokeWidth":4.5,"interpolate":"monotone"}},
   {"data":{"name":"labels"},"transform":[{"filter":"datum.p==='B' && datum.k==='big'"}],"mark":{"type":"text","font":"Liberation Sans","fontWeight":"bold","fontSize":29,"color":"#231f20"},"encoding":{"text":{"field":"t"}}},
   {"data":{"name":"labels"},"transform":[{"filter":"datum.p==='B' && datum.k==='sub'"}],"mark":{"type":"text","font":"Liberation Sans","fontWeight":"bold","fontSize":18,"color":"#231f20"},"encoding":{"text":{"field":"t"}}},
   {"data":{"name":"labels"},"transform":[{"filter":"datum.p==='B' && datum.k==='sup'"}],"mark":{"type":"text","font":"Liberation Sans","fontWeight":"bold","fontSize":16,"color":"#231f20"},"encoding":{"text":{"field":"t"}}},
   {"data":{"name":"labels"},"transform":[{"filter":"datum.p==='B' && datum.k==='msupB'"}],"mark":{"type":"text","font":"Liberation Sans","fontWeight":"bold","fontSize":18,"color":"#231f20"},"encoding":{"text":{"field":"t"}}},
   {"data":{"name":"labels"},"transform":[{"filter":"datum.p==='B' && datum.k==='msupR'"}],"mark":{"type":"text","font":"Liberation Sans","fontWeight":"normal","fontSize":18,"color":"#231f20"},"encoding":{"text":{"field":"t"}}},
   {"data":{"name":"labels"},"transform":[{"filter":"datum.p==='B' && datum.k==='pi'"}],"mark":{"type":"text","font":"Liberation Serif","fontSize":32,"color":"#231f20"},"encoding":{"text":{"field":"t"}}},
   {"data":{"name":"labels"},"transform":[{"filter":"datum.p==='B' && datum.k==='pistar'"}],"mark":{"type":"text","font":"Liberation Sans","fontSize":16,"color":"#231f20"},"encoding":{"text":{"field":"t"}}},
   {"data":{"name":"labels"},"transform":[{"filter":"datum.p==='B' && datum.k==='head'"}],"mark":{"type":"text","font":"Liberation Sans","fontWeight":"bold","fontSize":24,"align":"left","color":"#231f20"},"encoding":{"text":{"field":"t"}}}
  ]
 },
 {
  "data":{"name":"curves"},
  "transform":[{"filter":"datum.p==='B' && datum.s==='tot'"}],
  "mark":{"type":"point","opacity":0},
  "encoding":{
   "x":{"field":"E","type":"quantitative","scale":{"domain":[282.5,287],"nice":false,"zero":false},"axis":{"orient":"top","values":[282.5,282.6,282.7,282.8,282.9,283,283.1,283.2,283.3,283.4,283.5,283.6,283.7,283.8,283.9,284,284.1,284.2,284.3,284.4,284.5,284.6,284.7,284.8,284.9,285,285.1,285.2,285.3,285.4,285.5,285.6,285.7,285.8,285.9,286,286.1,286.2,286.3,286.4,286.5,286.6,286.7,286.8,286.9,287],"labels":false,"tickSize":{"condition":{"test":"abs(datum.value-round(datum.value))<0.01","value":7},"value":4},"title":null}},
   "y":{"field":"v","type":"quantitative","scale":{"domain":[0,10],"nice":false,"zero":false},"axis":{"orient":"right","values":[0,1,2,3,4,5,6,7,8,9,10],"labels":false,"tickSize":-5,"title":null}}
  }
 }
]
}
]
}
